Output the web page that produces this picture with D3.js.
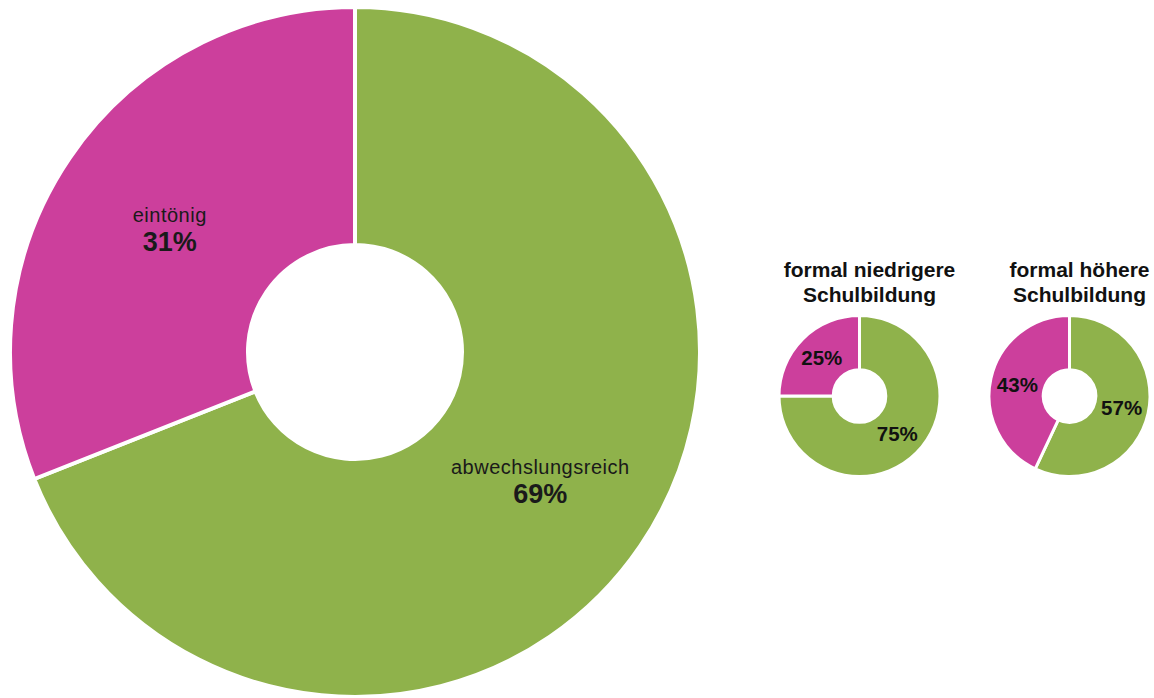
<!DOCTYPE html>
<html>
<head>
<meta charset="utf-8">
<script src="https://cdn.jsdelivr.net/npm/d3@7"></script>
<style>
  body { margin: 0; background: #fff; }
  svg { display: block; font-family: "Liberation Sans", Arial, sans-serif; }
</style>
</head>
<body>
<svg id="chart"></svg>
<script>
// categories and values
const categories = ["abwechslungsreich", "eintönig"];
const totalValues = [69, 31];
const groupTitles = [["formal niedrigere", "Schulbildung"], ["formal höhere", "Schulbildung"]];
const groupValues = [[75, 25], [57, 43]];

const width = 1154, height = 698;
const colors = d3.scaleOrdinal().domain(categories).range(["#8fb24b", "#cc3f9c"]);

const svg = d3.select("#chart").attr("width", width).attr("height", height);

const pie = d3.pie().sort(null).value(d => d.value);

function drawDonut(values, cx, cy, rOuter, rInner, strokeW) {
    const data = values.map((v, i) => ({ name: categories[i], value: v }));
    const arc = d3.arc().innerRadius(rInner).outerRadius(rOuter);
    const g = svg.append("g").attr("transform", `translate(${cx},${cy})`);
    const arcs = pie(data);
    g.selectAll("path")
        .data(arcs)
        .join("path")
        .attr("d", arc)
        .attr("fill", d => colors(d.data.name))
        .attr("stroke", "#fff")
        .attr("stroke-width", strokeW);
    return { g, arcs, arc };
}

// big donut
const big = drawDonut(totalValues, 355, 352, 345, 107, 4);
const bigLabel = d3.arc().innerRadius(224).outerRadius(224);
big.g.selectAll("g.lbl")
    .data(big.arcs)
    .join("g")
    .attr("class", "lbl")
    .attr("transform", d => `translate(${bigLabel.centroid(d)})`)
    .each(function (d) {
        const t = d3.select(this);
        t.append("text")
            .attr("text-anchor", "middle")
            .attr("y", -4)
            .attr("font-size", "20px")
            .attr("letter-spacing", "0.5px")
            .attr("fill", "#1a1a1a")
            .text(d.data.name);
        t.append("text")
            .attr("text-anchor", "middle")
            .attr("y", 25)
            .attr("font-size", "27px")
            .attr("font-weight", "bold")
            .attr("fill", "#1a1a1a")
            .text(d.data.value + "%");
    });

// small donuts
const smallX = [859.5, 1069.5];
groupValues.forEach((vals, k) => {
    const sm = drawDonut(vals, smallX[k], 396, 80.5, 26.3, 3);
    sm.g.selectAll("text.pct")
        .data(sm.arcs)
        .join("text")
        .attr("class", "pct")
        .attr("transform", d => `translate(${sm.arc.centroid(d)})`)
        .attr("text-anchor", "middle")
        .attr("dy", "0.35em")
        .attr("font-size", "20.5px")
        .attr("font-weight", "bold")
        .attr("fill", "#111")
        .text(d => d.data.value + "%");

    // titles sit a little right of the donut centre
    const tx = smallX[k] + 10;
    svg.append("text")
        .attr("x", tx)
        .attr("y", 277)
        .attr("text-anchor", "middle")
        .attr("font-size", "21px")
        .attr("font-weight", "bold")
        .attr("fill", "#111")
        .selectAll("tspan")
        .data(groupTitles[k])
        .join("tspan")
        .attr("x", tx)
        .attr("dy", (d, i) => i === 0 ? 0 : 24.5)
        .text(d => d);
});
</script>
</body>
</html>
